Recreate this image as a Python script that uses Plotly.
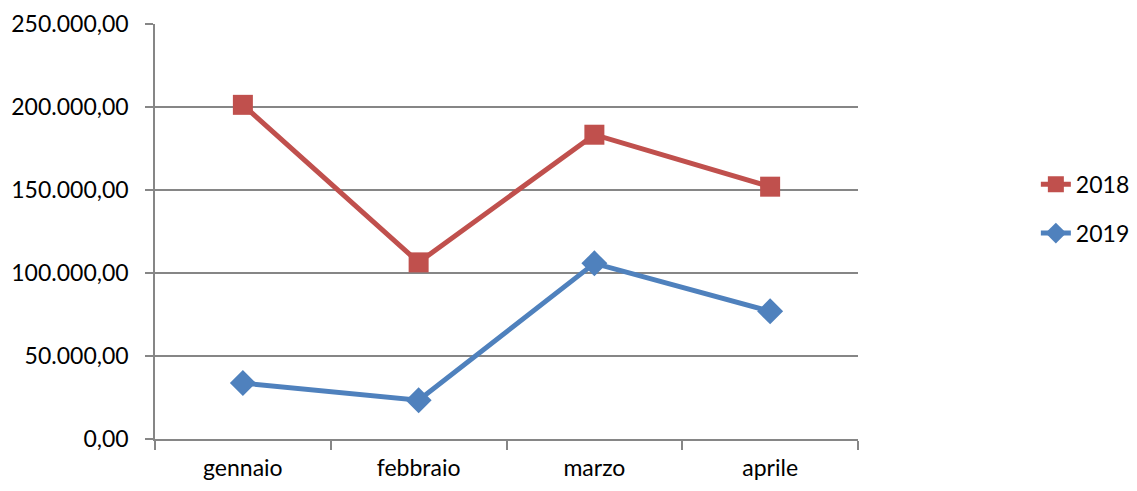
import plotly.graph_objects as go

months = ["gennaio", "febbraio", "marzo", "aprile"]
v2018 = [201300, 106400, 183300, 152000]
v2019 = [33700, 23400, 105800, 76900]

red = "#C0504D"
blue = "#4F81BD"
font = "Lato, Open Sans, sans-serif"

fig = go.Figure()
fig.add_trace(go.Scatter(x=months, y=v2018, name="2018", mode="lines+markers",
                         line=dict(color=red, width=5),
                         marker=dict(symbol="square", size=20, color=red),
                         legendgroup="a"))
fig.add_trace(go.Scatter(x=months, y=v2019, name="2019", mode="lines+markers",
                         line=dict(color=blue, width=5),
                         marker=dict(symbol="diamond", size=20, color=blue),
                         legendgroup="b"))

fig.update_layout(
    width=1121, height=475,
    margin=dict(l=147, r=271, t=16, b=44, autoexpand=False),
    plot_bgcolor="white", paper_bgcolor="white",
    separators=",.",
    font=dict(family=font, size=23, color="black"),
    legend=dict(x=1.253, y=0.555, xanchor="left", yanchor="middle",
                tracegroupgap=16, font=dict(size=23), itemwidth=30),
    xaxis=dict(type="category", tickson="boundaries", showgrid=False,
               showline=True, linecolor="#868686", linewidth=1.5,
               ticks="outside", ticklen=9, tickcolor="#868686", tickwidth=1.5,
               range=[-0.5, 3.5], tickfont=dict(size=23), ticklabelstandoff=8,
               automargin=False),
    yaxis=dict(range=[0, 250000], tickvals=[0, 50000, 100000, 150000, 200000, 250000],
               tickformat=",.2f", showgrid=True, gridcolor="#868686", gridwidth=1.5,
               showline=True, linecolor="#868686", linewidth=1.5,
               ticks="outside", ticklen=8, tickcolor="#868686", tickwidth=1.5,
               zeroline=False, tickfont=dict(size=23), ticklabelstandoff=12,
               automargin=False),
)

fig.write_html("out.html")
